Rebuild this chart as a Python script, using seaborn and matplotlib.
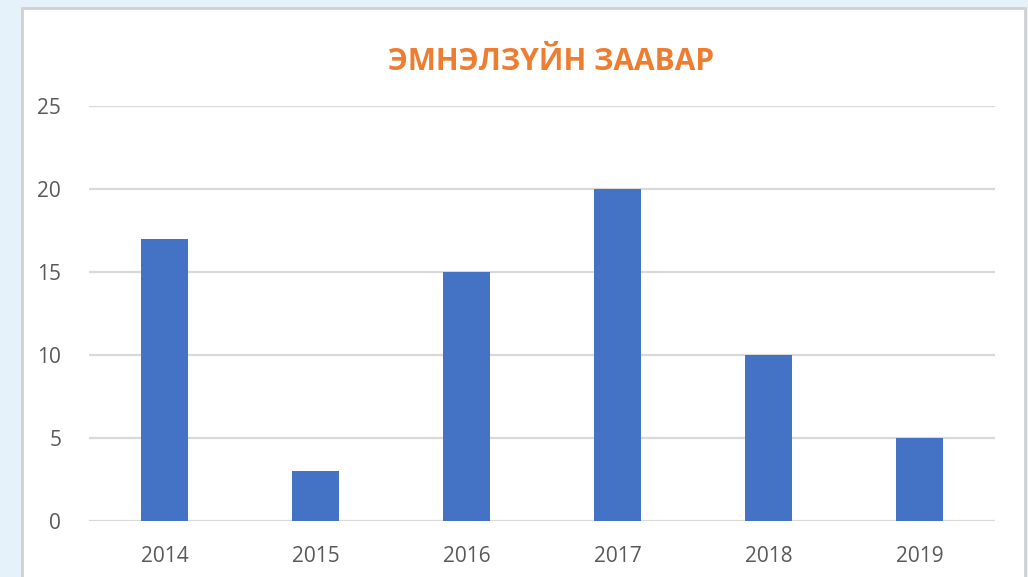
import matplotlib
matplotlib.use("Agg")
import matplotlib.pyplot as plt
import seaborn as sns
import pandas as pd
from matplotlib.patches import Rectangle

# Data
years = ["2014", "2015", "2016", "2017", "2018", "2019"]
values = [17, 3, 15, 20, 10, 5]
title = "ЭМНЭЛЗҮЙН ЗААВАР"

df = pd.DataFrame({"Year": years, "Count": values})

sns.set_style("white")
plt.rcParams['font.family'] = ['Open Sans', 'DejaVu Sans']

fig = plt.figure(figsize=(10.28, 5.77), dpi=100)
fig.patch.set_facecolor('#e6f2fa')

# white chart card with light gray border, kept behind the axes
card = Rectangle((22 / 1028, -0.02), (1025 - 22) / 1028, 1.02 - 8 / 577,
                 transform=fig.transFigure, facecolor='white',
                 edgecolor='#d0d0d0', linewidth=2, zorder=-1)
fig.patches.append(card)

ax = fig.add_axes([89 / 1028, (577 - 521) / 577, (995 - 89) / 1028, (521 - 106) / 577])
ax.set_facecolor('none')

sns.barplot(data=df, x="Year", y="Count", color='#4472C4', width=0.31,
            saturation=1, linewidth=0, ax=ax, zorder=3)

ax.set_ylim(0, 25)
ax.set_yticks([0, 5, 10, 15, 20, 25])
ax.set_xlim(-0.5, len(years) - 0.5)
ax.grid(axis='y', color='#d9d9d9', linewidth=1.6, zorder=0)
ax.set_axisbelow(True)
for s in ax.spines.values():
    s.set_visible(False)
ax.set_xlabel("")
ax.set_ylabel("")
ax.tick_params(axis='both', length=0, labelsize=15, labelcolor='#595959')
ax.tick_params(axis='y', pad=20)
ax.tick_params(axis='x', pad=18)

fig.text(551 / 1028, 1 - 62 / 577, title, ha='center', va='center',
         fontsize=21.5, fontweight='bold', color='#ED7D31')

fig.savefig("out.png", dpi=100, facecolor=fig.get_facecolor())
